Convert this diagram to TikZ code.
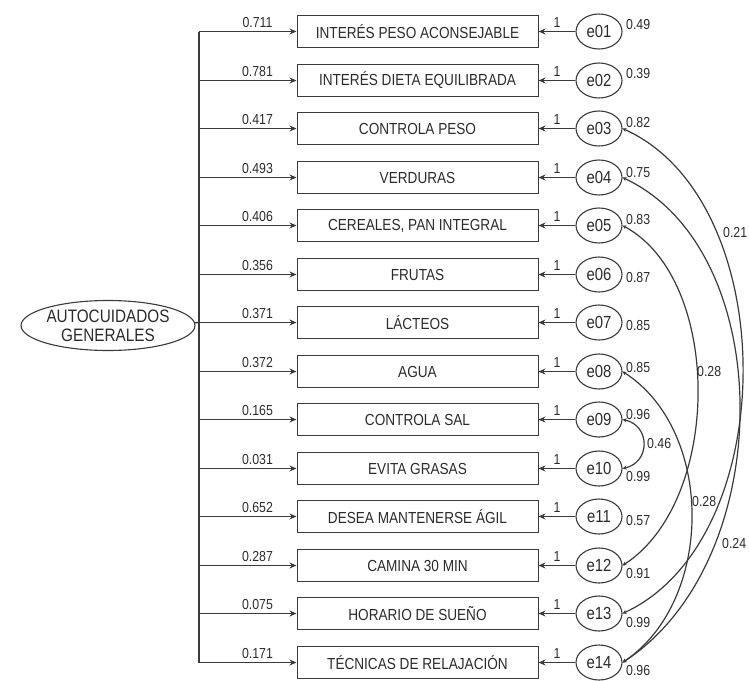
\documentclass[tikz,border=0pt]{standalone}
\usepackage{fontspec}
\setmainfont[FakeStretch=0.85]{Liberation Sans}
\usetikzlibrary{arrows.meta,shapes.geometric}
\definecolor{ink}{HTML}{2B2B2B}
\definecolor{ink2}{HTML}{3A3A3A}

\begin{document}
\begin{tikzpicture}[x=1pt,y=-1pt,
  wire/.style={draw=ink2,line width=1.5pt},
  load/.style={wire,-{Stealth[length=7pt,width=6pt]}},
  cov/.style={draw=ink2,line width=1.2pt,{Stealth[length=4pt,width=4pt]}-{Stealth[length=4pt,width=4pt]}},
  item/.style={draw=ink2,line width=1pt,minimum width=241pt,minimum height=32pt,inner sep=0pt,font=\fontsize{16}{18}\selectfont,text=ink},
  err/.style={draw=ink2,line width=1.1pt,ellipse,minimum width=46pt,minimum height=35pt,inner sep=0pt,font=\fontsize{17.5}{19}\selectfont,text=ink},
  lat/.style={draw=ink2,line width=1.1pt,ellipse,minimum width=140pt,minimum height=50pt,inner sep=0pt,align=center,font=\fontsize{18}{19}\selectfont,text=ink},
  val/.style={font=\fontsize{14.5}{16}\selectfont,text=ink,inner sep=2pt}]
  \useasboundingbox (0,0) rectangle (749,680);
  \node[lat] (auto) at (108,325.5) {AUTOCUIDADOS\\GENERALES};
  \foreach \nn/\lab/\w/\v/\vy [count=\i] in {
      01/INTERÉS PESO ACONSEJABLE/0.711/0.49/-7,
      02/INTERÉS DIETA EQUILIBRADA/0.781/0.39/-7,
      03/CONTROLA PESO/0.417/0.82/-6,
      04/VERDURAS/0.493/0.75/-5,
      05/{CEREALES, PAN INTEGRAL}/0.406/0.83/-6,
      06/FRUTAS/0.356/0.87/3,
      07/LÁCTEOS/0.371/0.85/3.5,
      08/AGUA/0.372/0.85/-4,
      09/CONTROLA SAL/0.165/0.96/-4.5,
      10/EVITA GRASAS/0.031/0.99/8,
      11/DESEA MANTENERSE ÁGIL/0.652/0.57/4,
      12/CAMINA 30 MIN/0.287/0.91/8,
      13/HORARIO DE SUEÑO/0.075/0.99/8.5,
      14/TÉCNICAS DE RELAJACIÓN/0.171/0.96/8} {
    \pgfmathsetmacro\yy{31.5+round(48.5*(\i-1))}
    \coordinate (s\nn) at (199,\yy);
    \node[item] (x\nn) at (417.5,\yy) {\lab};
    \node[err] (e\nn) at (599,\yy) {e\nn};
    \draw[load] (s\nn) -- node[val,above=1pt,pos=0.6] {\w} (x\nn);
    \draw[load] (e\nn) -- node[val,above=1pt] {1} (x\nn);
    \node[val,anchor=west] at (624,\yy+\vy) {\v};
  }
  \draw[wire] (s01) -- (s14);
  \draw[wire] (auto) -- (s07);
  \draw[cov] (e03.east) .. controls +(160,72) and +(160,-74) .. (e13.east);
  \draw[cov] (e04.east) .. controls +(156,73) and +(156,-102) .. (e14.east);
  \draw[cov] (e05.east) .. controls +(100,54) and +(100,-65) .. (e12.east);
  \draw[cov] (e08.east) .. controls +(92,59) and +(92,-62) .. (e14.east);
  \draw[cov] (e09.east) .. controls +(28,6) and +(28,-6) .. (e10.east);
  \node[val,anchor=west] at (721,233) {0.21};
  \node[val,anchor=west] at (695,372) {0.28};
  \node[val,anchor=west] at (645,444) {0.46};
  \node[val,anchor=west] at (690,502) {0.28};
  \node[val,anchor=west] at (720,544) {0.24};
\end{tikzpicture}
\end{document}
